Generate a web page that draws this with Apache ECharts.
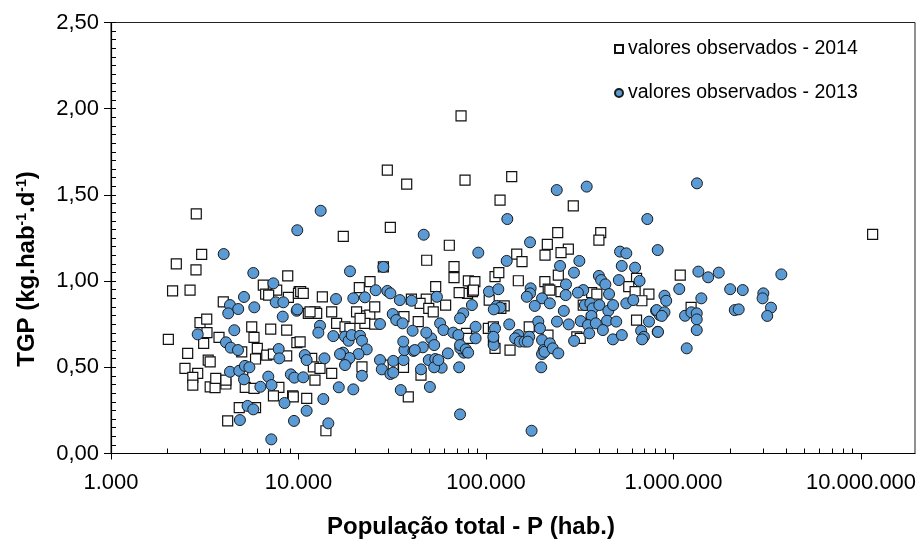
<!DOCTYPE html>
<html>
<head>
<meta charset="utf-8">
<script src="https://cdn.jsdelivr.net/npm/echarts@6/dist/echarts.min.js"></script>
<style>
  html, body { margin: 0; padding: 0; background: #fff; }
  #chart { width: 921px; height: 548px; }
</style>
</head>
<body>
<div id="chart"></div>
<script>
// TGP (kg/hab/dia) versus população total, municípios 2014 e 2013

const seriesNames = ['valores observados - 2014', 'valores observados - 2013'];

// 2014 — população (hab.)
const pop2014 = [
  2850, 3045, 2230, 2840, 6490, 8760, 2130, 2640, 3970, 10090,
  7650, 6680, 6930, 8830, 10000, 2983, 3240, 3250, 5630, 5790,
  7110, 8650, 2022, 3120, 3767, 4980, 6030, 5900, 6770, 7350,
  8650, 9800, 2564, 3300, 3380, 2480, 2900, 2730, 2730, 3380,
  3590, 3620, 4100, 4100, 5040, 5200, 5790, 7860, 7350, 9300,
  4830, 5900, 4190,
  29760, 37760, 77270, 17330, 30880, 63720, 24060, 28350, 48260, 67500,
  67500, 80500, 87200, 21100, 53900, 79700, 84700, 10270, 10600, 13400,
  40000, 48000, 12240, 12500, 15030, 36500, 43500, 22600, 24000, 22600,
  25500, 11280, 11520, 15970, 17700, 18800, 45000, 38500, 44500, 49500,
  52300, 60900, 71900, 85700, 20400, 25500, 21300, 10200, 11760, 12000,
  13020, 29400, 32000, 36300, 21800, 12240, 15030, 9380, 11060, 14000,
  73600,
  137100, 118800, 292000, 241200, 409000, 400000, 212300, 274800, 251200, 206400,
  145800, 155600, 243000, 635000, 577000, 624000, 739000, 148700, 206000, 214600,
  111700, 117000, 366000, 390000, 219000, 251000, 104000, 125000, 120000, 102900,
  109500, 109500, 111700, 78700, 80300, 134300, 170000, 214000, 678000, 635000,
  305000, 318000, 330000, 365000, 1086000, 1241000, 11530000
];
// 2014 — TGP (kg.hab-1.d-1)
const tgp2014 = [
  1.39, 1.155, 1.10, 1.065, 0.977, 1.03, 0.943, 0.948, 0.88, 0.939,
  0.948, 0.925, 0.919, 0.906, 0.929, 0.759, 0.78, 0.701, 0.735, 0.674,
  0.722, 0.716, 0.662, 0.639, 0.674, 0.59, 0.61, 0.548, 0.571, 0.577,
  0.566, 0.643, 0.581, 0.542, 0.532, 0.494, 0.465, 0.442, 0.397, 0.387,
  0.382, 0.436, 0.403, 0.426, 0.48, 0.384, 0.378, 0.384, 0.334, 0.334,
  0.266, 0.266, 0.189,
  1.644, 1.563, 1.586, 1.26, 1.312, 1.208, 0.997, 1.082, 1.121, 1.084,
  1.02, 1.001, 0.997, 0.962, 0.968, 0.929, 0.939, 0.939, 0.929, 0.909,
  0.896, 0.896, 0.822, 0.813, 0.822, 0.794, 0.765, 0.798, 0.803, 0.755,
  0.751, 0.813, 0.822, 0.755, 0.735, 0.726, 0.455, 0.329, 0.871, 0.842,
  0.822, 0.861, 0.933, 0.948, 0.822, 0.851, 0.784, 0.648, 0.552, 0.503,
  0.494, 0.513, 0.503, 0.50, 0.503, 0.426, 0.465, 0.329, 0.32, 0.132,
  1.958,
  1.606, 1.47, 1.436, 1.281, 1.281, 1.238, 1.213, 1.186, 1.165, 1.151,
  1.157, 1.113, 1.035, 1.016, 0.968, 0.939, 0.925, 1.002, 0.997, 0.953,
  1.026, 1.049, 0.933, 0.925, 0.948, 0.939, 0.89, 0.856, 0.842, 0.726,
  0.735, 0.658, 0.61, 0.697, 0.668, 0.60, 0.735, 0.687, 0.886, 0.774,
  0.677, 0.668, 0.861, 0.784, 1.035, 0.848, 1.271
];

// 2013 — população (hab.)
const pop2013 = [
  3990, 5740, 7340, 5120, 4310, 4220, 4770, 5810, 7560, 8300,
  9780, 8240, 2900, 4545, 4103, 4350, 4756, 7840, 7900, 4310,
  4830, 5120, 5180, 5470, 6900, 7180, 6260, 9100, 9500, 8420,
  5350, 5740, 4870, 9460, 7160,
  13130, 9850, 46530, 90970, 18820, 28350, 25800, 29760, 30900, 15850,
  19600, 22600, 34700, 40100, 54700, 9850, 27200, 31800, 33200, 35900,
  13020, 12760, 15330, 17700, 18500, 19200, 21300, 21800, 23100, 20900,
  17300, 18100, 18700, 17700, 16650, 13750, 10800, 11050, 10600, 16400,
  19600, 21800, 13560, 11050, 14420, 27200, 27800, 32000, 30900, 32000,
  36300, 36700, 41000, 46000, 49500, 53600, 58000, 52900, 55700, 62600,
  71900, 76100, 72900, 45000, 50200, 35100, 72700, 36200, 40600, 41700,
  51000, 52900, 48000, 56900, 59300, 66900, 71200, 72700, 79000, 84100,
  75600, 72700, 88000, 88000,
  238400, 344300, 129900, 724800, 171700, 128900, 248200, 314600, 294400, 518500,
  560000, 823600, 529500, 623600, 400000, 411000, 433000, 511000, 659000, 267000,
  173000, 171700, 199000, 165000, 103700, 116300, 330000, 309000, 453000, 266000,
  182000, 219000, 560000, 610000, 807000, 844000, 114000, 119000, 110000, 133000,
  111700, 110000, 109500, 78000, 80300, 148700, 143000, 151500, 160500, 170000,
  166900, 190000, 194000, 199000, 203000, 199000, 205000, 197000, 219000, 227000,
  243000, 239000, 260000, 276000, 295000, 320000, 337000, 360000, 371000, 365000,
  350000, 355000, 385000, 402000, 449000, 476000, 442000, 495000, 420000, 475000,
  530000, 672000, 695000, 680000, 740000, 823000, 175000,
  1333000, 1357000, 1530000, 1743000, 3758000, 1073000, 2005000, 2340000, 895000, 3013000,
  1407000, 914000, 2984000, 3310000, 3160000, 813000, 895000, 866000, 826000, 1152000,
  1245000, 1330000, 1330000, 1330000, 1176000, 2122000, 2226000
];
// 2013 — TGP (kg.hab-1.d-1)
const tgp2013 = [
  1.157, 1.047, 0.987, 0.908, 0.861, 0.813, 0.838, 0.848, 0.877, 0.877,
  0.828, 0.794, 0.691, 0.715, 0.645, 0.614, 0.60, 0.606, 0.552, 0.474,
  0.48, 0.43, 0.508, 0.50, 0.446, 0.397, 0.387, 0.459, 0.44, 0.293,
  0.276, 0.256, 0.194, 0.189, 0.082,
  1.408, 1.295, 1.269, 1.165, 1.057, 1.082, 0.947, 0.943, 0.929, 0.896,
  0.90, 0.906, 0.89, 0.886, 0.909, 0.836, 0.751, 0.809, 0.774, 0.755,
  0.741, 0.701, 0.681, 0.678, 0.654, 0.687, 0.683, 0.654, 0.604, 0.577,
  0.585, 0.537, 0.554, 0.513, 0.577, 0.552, 0.571, 0.542, 0.442, 0.384,
  0.372, 0.451, 0.316, 0.248, 0.175, 0.542, 0.488, 0.537, 0.461, 0.469,
  0.542, 0.60, 0.595, 0.616, 0.542, 0.548, 0.498, 0.50, 0.542, 0.581,
  0.50, 0.585, 0.61, 0.488, 0.386, 0.368, 0.227, 0.649, 0.712, 0.60,
  0.668, 0.629, 0.701, 0.755, 0.716, 0.701, 0.687, 0.629, 0.59, 0.861,
  0.813, 0.784, 0.735, 0.668,
  1.528, 1.548, 1.36, 1.36, 1.225, 1.117, 1.088, 1.117, 1.049, 1.171,
  1.161, 1.18, 1.088, 1.078, 1.03, 1.006, 0.981, 1.006, 1.001, 0.981,
  0.958, 0.929, 0.90, 0.909, 0.939, 0.953, 0.948, 0.933, 0.925, 0.919,
  0.856, 0.871, 0.871, 0.89, 0.828, 0.803, 0.856, 0.846, 0.836, 0.749,
  0.726, 0.629, 0.677, 0.604, 0.585, 0.687, 0.668, 0.649, 0.649, 0.677,
  0.649, 0.765, 0.726, 0.658, 0.60, 0.577, 0.59, 0.50, 0.639, 0.61,
  0.581, 0.765, 0.827, 0.749, 0.653, 0.768, 0.861, 0.871, 0.842, 0.798,
  0.745, 0.697, 0.755, 0.861, 0.828, 0.861, 0.77, 0.765, 0.716, 0.662,
  0.687, 0.712, 0.677, 0.662, 0.765, 0.706, 0.132,
  1.567, 1.055, 1.022, 1.049, 1.039, 0.954, 0.953, 0.948, 0.915, 0.929,
  0.90, 0.886, 0.90, 0.846, 0.798, 0.832, 0.819, 0.798, 0.705, 0.799,
  0.819, 0.813, 0.778, 0.716, 0.61, 0.832, 0.836
];

// Axis settings
const xMin = 1000, xMax = 19400000;
const xMajorTicks = [1000, 10000, 100000, 1000000, 10000000];
const xMinorTicks = [];
for (let d = 1000; d <= 10000000; d *= 10) {
  for (let k = 2; k <= 9; k++) {
    if (d * k <= xMax) xMinorTicks.push(d * k);
  }
}
const yMin = 0, yMax = 2.5, yStep = 0.5, yMinorStep = 0.05;

const FONT = '"Liberation Sans", Arial, sans-serif';

function pairs(xs, ys) {
  return xs.map((x, i) => [x, ys[i]]);
}
function fmtThousands(v) {
  return Math.round(v).toString().replace(/\B(?=(\d{3})+(?!\d))/g, '.');
}

const chart = echarts.init(document.getElementById('chart'), null, { renderer: 'canvas' });

chart.setOption({
  backgroundColor: '#ffffff',
  animation: false,
  textStyle: { fontFamily: FONT, color: '#000' },
  grid: {
    left: 111, right: 6, top: 22.5, bottom: 94.5,
    show: true, borderColor: '#222', borderWidth: 1, backgroundColor: 'transparent'
  },
  legend: {
    data: seriesNames,
    orient: 'vertical',
    left: 609,
    top: 34,
    itemWidth: 8,
    itemHeight: 8,
    itemGap: 24,
    textStyle: { fontSize: 19.5, color: '#000', fontFamily: FONT }
  },
  xAxis: [
    {
      type: 'log', logBase: 10, min: xMin, max: xMax,
      position: 'bottom',
      name: 'População total - P (hab.)',
      nameLocation: 'middle',
      nameGap: 62,
      nameTextStyle: { fontSize: 24, fontWeight: 'bold', color: '#000', fontFamily: FONT, padding: [0, 84, 0, 0] },
      axisLine: { show: true, lineStyle: { color: '#000', width: 1.2 } },
      axisTick: { show: true, inside: false, length: 6, customValues: xMajorTicks, lineStyle: { color: '#000' } },
      axisLabel: {
        customValues: xMajorTicks,
        fontSize: 22, color: '#000', margin: 18, fontFamily: FONT,
        formatter: v => fmtThousands(v)
      },
      splitLine: { show: false },
      minorTick: { show: false }
    },
    {
      type: 'log', logBase: 10, min: xMin, max: xMax,
      position: 'bottom',
      axisLine: { show: false },
      axisTick: { show: true, inside: true, length: 5, customValues: xMinorTicks, lineStyle: { color: '#000' } },
      axisLabel: { show: false },
      splitLine: { show: false }
    }
  ],
  yAxis: [
    {
      type: 'value', min: yMin, max: yMax, interval: yStep,
      position: 'left',
      name: 'TGP (kg.hab{sup|-1}.d{sup|-1})',
      nameLocation: 'middle',
      nameGap: 72,
      nameRotate: 90,
      nameTextStyle: {
        fontSize: 24, fontWeight: 'bold', color: '#000', fontFamily: FONT,
        padding: [0, 62, 0, 0],
        rich: { sup: { fontSize: 14, fontWeight: 'bold', verticalAlign: 'top', color: '#000', fontFamily: FONT } }
      },
      axisLine: { show: true, lineStyle: { color: '#000', width: 1.2 } },
      axisTick: { show: true, inside: false, length: 7, lineStyle: { color: '#000' } },
      axisLabel: {
        fontSize: 22, color: '#000', margin: 12, fontFamily: FONT,
        formatter: v => v.toFixed(2).replace('.', ',')
      },
      splitLine: { show: false }
    },
    {
      type: 'value', min: yMin, max: yMax, interval: yMinorStep,
      position: 'left',
      axisLine: { show: false },
      axisTick: { show: true, inside: true, length: 5, lineStyle: { color: '#000' } },
      axisLabel: { show: false },
      splitLine: { show: false }
    }
  ],
  series: [
    {
      name: seriesNames[0],
      type: 'scatter',
      xAxisIndex: 0, yAxisIndex: 0,
      symbol: 'rect',
      symbolSize: 10,
      itemStyle: { color: '#ffffff', borderColor: '#111', borderWidth: 1.2, opacity: 1 },
      data: pairs(pop2014, tgp2014),
      z: 2
    },
    {
      name: seriesNames[1],
      type: 'scatter',
      xAxisIndex: 0, yAxisIndex: 0,
      symbol: 'circle',
      symbolSize: 11,
      itemStyle: { color: '#5B9BD5', borderColor: '#1b1b1b', borderWidth: 1, opacity: 1 },
      data: pairs(pop2013, tgp2013),
      z: 3
    }
  ]
});
</script>
</body>
</html>
